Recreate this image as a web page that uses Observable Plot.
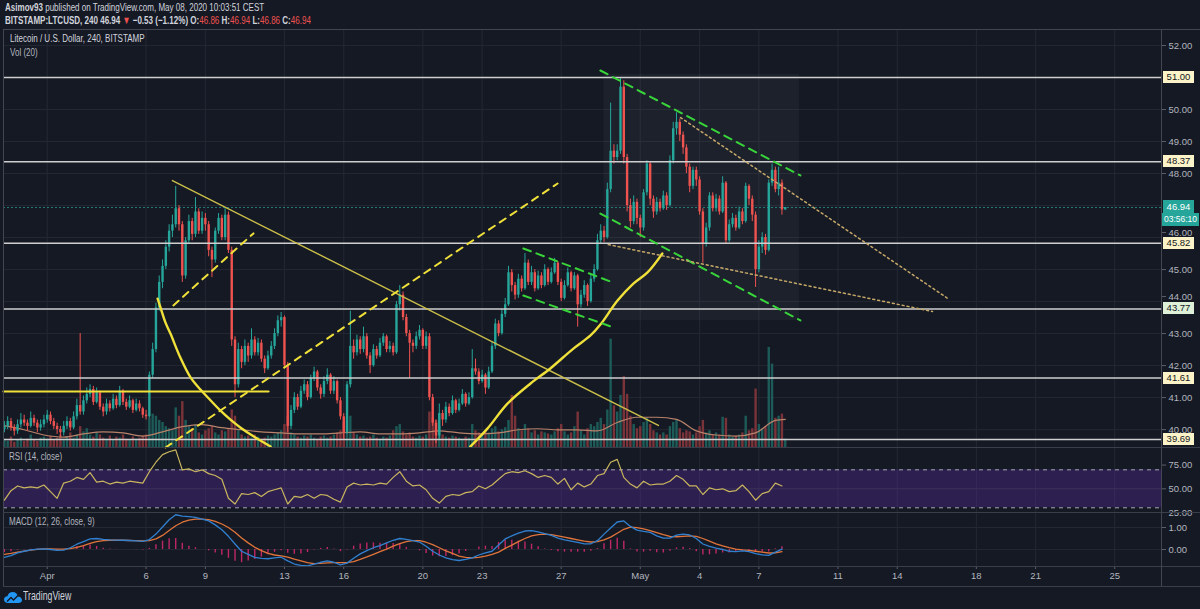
<!DOCTYPE html>
<html><head><meta charset="utf-8">
<script src="https://cdn.jsdelivr.net/npm/d3@7"></script>
<script src="https://cdn.jsdelivr.net/npm/@observablehq/plot@0.6"></script>
<style>
html,body{margin:0;padding:0;background:#151924;}
#wrap{position:relative;width:1200px;height:609px;overflow:hidden;background:#151924;font-family:"Liberation Sans",Arial,sans-serif;color:#d1d4dc;}
.abs{position:absolute;}
.cond{display:inline-block;transform:scaleX(0.73);transform-origin:0 50%;white-space:nowrap;}
.red{color:#ef5350;}
.lbl{position:absolute;font-size:9.5px;line-height:12px;height:12px;text-align:center;color:#131722;overflow:hidden;white-space:nowrap;}
svg{overflow:visible;}
</style></head>
<body><div id="wrap"></div>
<script>
// ---------------- DATA ----------------
const firstOpen = 40.00;
const close = [
40.10,40.25,40.05,39.95,40.15,40.30,40.20,40.10,40.35,40.20,
40.05,40.15,40.30,40.45,40.25,40.10,40.00,39.90,40.10,40.25,
40.05,40.40,40.75,40.55,40.90,41.10,41.25,40.85,41.15,40.70,
40.55,40.80,40.65,40.95,40.75,41.20,40.85,40.70,40.90,40.60,
40.80,40.65,40.45,40.40,41.70,42.50,43.80,44.60,45.10,45.70,
46.20,46.40,46.90,46.40,44.80,45.90,46.50,46.10,46.80,46.20,
46.60,46.40,45.60,45.30,46.20,46.60,46.00,46.70,45.60,42.80,
41.40,42.50,42.10,42.60,42.30,42.80,42.40,42.70,42.20,41.90,
42.30,42.60,43.00,43.40,43.50,42.00,40.10,40.60,41.00,40.70,
41.20,41.40,41.00,41.60,41.80,41.30,41.10,41.50,41.70,41.20,
41.50,40.90,40.40,39.90,41.40,42.60,42.40,42.80,42.50,42.90,
42.30,42.00,42.50,42.30,42.70,42.90,42.50,42.60,42.40,43.90,
44.20,43.50,43.00,42.70,42.60,42.90,43.10,42.60,42.90,41.00,
40.20,39.80,40.50,40.30,40.70,40.50,40.90,40.60,40.80,41.10,
40.80,41.00,41.90,41.80,41.50,41.70,41.30,41.80,42.60,43.30,
43.00,43.60,43.90,44.90,44.50,44.20,44.70,44.40,45.20,44.60,
44.90,44.40,44.80,44.50,45.00,44.60,44.90,45.20,44.60,44.10,
44.50,44.90,44.40,44.80,43.90,44.20,44.50,44.00,44.70,45.00,
45.90,46.20,46.00,47.50,48.70,48.50,48.70,50.70,48.50,47.00,
46.50,47.10,46.60,46.30,47.40,48.30,47.20,46.80,47.10,46.90,
47.30,47.00,48.40,49.40,49.60,49.20,48.80,48.20,47.60,48.10,
47.80,46.80,45.80,46.30,47.30,46.90,47.20,46.80,47.70,45.90,
46.40,46.60,46.30,46.80,46.50,47.60,47.20,46.70,45.00,45.70,
46.00,45.60,47.70,48.10,47.50,47.70,46.86,46.94];
const high = [
40.25,40.40,40.35,40.15,40.30,40.50,40.45,40.30,40.55,40.45,
40.30,40.30,40.45,40.60,40.55,40.35,40.20,40.10,40.25,40.40,
40.35,40.55,40.95,43.00,41.05,41.30,41.40,41.35,41.30,41.20,
40.80,40.95,40.90,41.10,41.05,41.35,41.25,40.95,41.05,40.95,
40.95,40.90,40.70,40.60,41.80,42.70,43.95,44.80,45.30,45.90,
46.40,46.70,47.60,47.00,46.50,46.00,46.70,46.60,47.25,46.90,
46.80,46.75,46.50,45.70,46.30,46.75,46.70,46.90,46.80,45.70,
42.90,42.70,42.60,42.80,42.70,43.15,42.90,42.85,42.80,42.30,
42.45,42.75,43.15,43.55,43.66,43.55,42.10,40.75,41.15,41.10,
41.35,41.55,41.50,41.70,41.95,41.85,41.40,41.65,41.90,41.75,
41.65,41.55,41.00,40.50,41.50,43.70,42.80,42.95,42.90,43.20,
43.00,42.40,42.65,42.60,42.85,43.00,42.95,42.75,42.70,44.00,
44.50,44.30,43.60,43.10,42.80,43.05,43.25,43.15,43.05,43.00,
41.10,40.30,40.80,40.60,40.85,40.80,41.05,40.95,40.95,41.25,
41.15,41.15,42.50,42.20,41.90,41.85,41.75,41.95,42.75,43.45,
43.40,43.75,44.10,45.10,45.00,44.60,44.85,44.80,45.50,45.30,
45.10,45.00,44.95,44.90,45.15,45.05,45.05,45.35,45.25,44.70,
44.65,45.05,44.95,44.90,44.85,44.35,44.65,44.55,44.85,45.15,
46.10,46.40,46.35,47.70,50.20,48.90,48.90,51.00,50.90,48.60,
47.20,47.30,47.20,46.70,47.50,48.40,48.35,47.30,47.25,47.20,
47.45,47.40,48.55,49.60,49.90,49.70,49.30,48.90,48.30,48.20,
48.20,47.90,46.90,46.45,47.40,47.40,47.35,47.30,47.90,47.75,
46.55,46.75,46.70,46.95,46.90,47.70,47.65,47.30,46.80,45.90,
46.15,46.10,47.80,48.30,48.20,48.20,47.80,46.94];
const low = [
39.90,40.00,39.95,39.80,39.85,40.05,40.10,39.95,40.05,40.10,
39.90,39.95,40.05,40.20,40.15,40.00,39.85,39.75,39.80,40.00,
39.95,40.00,40.30,40.45,40.45,40.80,41.00,40.75,40.80,40.60,
40.40,40.45,40.55,40.60,40.65,40.70,40.75,40.60,40.65,40.50,
40.55,40.55,40.35,40.30,40.35,41.60,42.40,43.70,44.40,45.00,
45.55,46.00,46.30,46.20,44.60,44.70,45.80,45.90,46.00,46.10,
46.10,46.20,45.40,44.75,45.20,46.10,45.90,45.90,45.50,42.60,
41.00,41.30,41.90,42.00,42.10,42.20,42.30,42.30,42.10,41.75,
41.85,42.20,42.50,42.90,43.20,41.90,39.90,40.00,40.50,40.60,
40.65,41.10,40.90,40.95,41.50,41.20,40.95,41.00,41.40,41.10,
41.10,40.80,40.30,39.70,39.85,41.30,42.20,42.30,42.35,42.40,
42.20,41.75,41.95,42.20,42.25,42.60,42.40,42.40,42.30,42.35,
43.70,43.40,42.90,41.60,42.40,42.50,42.80,42.50,42.50,40.90,
40.10,39.56,39.70,40.10,40.20,40.40,40.45,40.50,40.55,40.75,
40.70,40.75,40.95,41.70,41.40,41.45,41.10,41.25,41.75,42.50,
42.90,42.95,43.50,43.85,44.30,44.05,44.10,44.30,44.35,44.50,
44.50,44.30,44.35,44.40,44.45,44.50,44.55,44.85,44.50,44.00,
44.05,44.45,44.30,44.35,43.20,43.80,44.10,43.85,43.95,44.60,
44.95,45.80,45.85,45.95,47.40,48.30,48.40,48.60,48.30,46.80,
46.30,46.40,46.40,46.00,46.20,47.30,47.00,46.60,46.70,46.80,
46.85,46.85,46.95,48.30,49.20,49.00,48.60,48.00,47.40,47.50,
47.60,46.70,45.20,45.70,46.20,46.80,46.80,46.70,46.75,45.80,
45.85,46.30,46.20,46.25,46.40,46.45,47.00,46.50,44.44,44.90,
45.50,45.45,45.55,47.60,47.40,47.30,46.70,46.86];
const volume = [
8,6,10,5,7,9,6,8,12,7, 6,9,10,8,11,7,9,12,8,10, 14,9,12,20,15,18,12,10,14,12,
9,8,11,7,10,9,12,8,7,10, 8,9,11,12,28,32,30,26,24,20, 18,16,38,30,44,26,20,18,22,14,
12,16,18,20,14,12,16,15,18,36, 30,16,12,10,11,9,12,10,8,9, 11,10,12,14,16,22,30,14,12,10,
9,11,10,12,9,8,10,11,9,10, 12,14,16,24,26,30,14,12,10,11, 9,10,12,9,8,10,9,11,16,20,
22,15,12,14,10,9,11,10,12,34, 28,26,20,12,10,9,11,10,9,8, 10,9,22,16,14,12,16,14,18,20,
15,17,19,26,50,30,18,16,22,18, 14,16,12,15,14,13,12,15,18,22, 15,12,14,20,34,16,12,18,22,20,
24,28,22,36,104,40,34,50,68,51, 30,22,18,20,24,28,22,16,14,12, 14,12,20,24,26,18,14,16,15,12,
14,20,26,14,16,12,14,12,29,28, 12,10,11,12,14,30,16,18,56,22, 18,20,96,80,28,30,32,8];
// Vol MA(20) read at every 6th bar plus the last bar
const volMAIdx = [0,6,12,18,24,30,36,42,48,54,60,66,72,78,84,90,96,102,108,114,120,126,132,138,144,150,156,162,168,174,180,186,192,198,204,210,216,222,228,234,237];
const volMA = [21,17,12,10,13,15,14,11,15,20, 22,19,17,15,14,13,13,14,15,13, 13,14,16,14,13,14,17,18,17,17, 16,24,29,29,27,16,12,11,14,26, 27];
// RSI(14), MACD(12,26,9) read at every 2nd bar
const rsi = [38,48,53,51,52,51,54,47,40,56, 58,62,60,67,57,58,55,57,56,58, 57,56,68,78,86,89,91,70,71,68,
70,66,64,60,40,34,45,44,46,42, 47,49,51,34,42,41,44,40,44,43, 39,36,52,56,54,55,54,56,55,62,
68,58,53,54,49,40,35,42,44,43, 46,47,53,50,54,60,66,68,67,69, 66,62,64,62,55,61,49,56,52,55,
64,66,78,81,62,55,51,58,54,55, 55,58,64,60,53,53,44,51,49,50, 47,48,54,47,38,45,47,56,53];
const macd = [-0.36,-0.28,-0.15,-0.08,-0.02,0.02,0.03,0.00,-0.04,-0.03, 0.08,0.24,0.36,0.48,0.50,0.46,0.44,0.43,0.42,0.41,
0.39,0.37,0.45,0.70,1.02,1.35,1.58,1.52,1.49,1.46, 1.38,1.30,1.12,0.90,0.60,0.25,-0.08,-0.22,-0.36,-0.40,
-0.42,-0.38,-0.35,-0.52,-0.66,-0.72,-0.74,-0.66,-0.58,-0.52, -0.58,-0.70,-0.62,-0.40,-0.20,-0.05,0.08,0.18,0.30,0.42,
0.50,0.46,0.40,0.34,0.15,-0.08,-0.25,-0.38,-0.46,-0.50, -0.45,-0.38,-0.25,-0.15,-0.08,0.20,0.48,0.62,0.74,0.84,
0.86,0.80,0.72,0.64,0.52,0.44,0.38,0.32,0.26,0.26, 0.40,0.70,0.98,1.25,1.30,1.05,0.88,0.82,0.78,0.62,
0.52,0.52,0.65,0.70,0.66,0.50,0.25,0.14,0.06,0.00, -0.08,-0.10,-0.06,-0.10,-0.19,-0.24,-0.27,-0.12,0.02];
const signal = [-0.22,-0.18,-0.12,-0.07,-0.03,0.01,0.03,0.03,0.02,0.02, 0.04,0.10,0.18,0.28,0.36,0.40,0.42,0.42,0.42,0.41,
0.40,0.39,0.40,0.48,0.64,0.86,1.08,1.24,1.34,1.38, 1.38,1.36,1.28,1.16,1.00,0.78,0.52,0.30,0.10,-0.05,
-0.18,-0.25,-0.29,-0.35,-0.44,-0.52,-0.60,-0.64,-0.63,-0.61, -0.60,-0.60,-0.60,-0.55,-0.45,-0.34,-0.22,-0.10,0.02,0.15,
0.27,0.36,0.40,0.40,0.33,0.22,0.08,-0.06,-0.18,-0.30, -0.36,-0.38,-0.36,-0.30,-0.22,-0.12,0.05,0.20,0.36,0.50,
0.62,0.68,0.70,0.68,0.62,0.56,0.50,0.44,0.38,0.34, 0.36,0.44,0.56,0.74,0.92,1.02,0.99,0.94,0.86,0.77,
0.68,0.60,0.58,0.60,0.62,0.60,0.50,0.38,0.26,0.16, 0.08,0.02,-0.02,-0.04,-0.08,-0.12,-0.16,-0.15,-0.10];

// levels and axis
const levels = [51.00, 48.37, 45.82, 43.77, 41.61, 39.69];
const levelBg = ["#fdf3c8","#fdf3c8","#fdf3c8","#dff0d8","#fdf3c8","#fdf3c8"];
const lastPrice = 46.94;
const countdown = "03:56:10";
const priceTicks = [40,41,42,43,45,48,49,50,52];
const priceTicksNearLevels = [44,46];
const gridTicks = [40,41,42,43,44,45,46,47,48,49,50,51,52];
const rsiTicks = [25,50,75];
const rsiBands = [30,70];
const macdTicks = [0,1];
// bar index of 00:00 each labelled day (bars every 4h from Mar 29 20:00)
const tickDays = [0,5,8,12,15,19,22,26,30,33,36,40,43,47,50,54];
const tickLabels = ["Apr","6","9","13","16","20","23","27","May","4","7","11","14","18","21","25"];

// drawings (bar index, price)
const trendSolid = [[51.0,47.78],[198.5,40.13]];
const arcLeft = [[46.5,44.09],[47.4,43.81],[48.9,43.34],[50.4,43.00],[53.4,42.25],[56.5,41.63],[59.5,41.25],[62.6,40.91],[65.6,40.59],[68.6,40.31],[71.7,40.06],[76.2,39.75],[80.8,39.47]];
const arcRight = [[141.4,39.47],[146.6,40.03],[152.7,40.81],[159.7,41.44],[165.7,41.91],[172.7,42.53],[177.9,42.94],[180.9,43.28],[186.1,44.03],[190.9,44.56],[195.2,44.91],[199.7,45.50]];
const yellowH = [[-0.3,41.19],[80.2,41.19]];
const yellowDash = [[[51.3,43.88],[75.6,46.13]], [[48.9,39.44],[167.9,47.69]]];
const greenDash = [[[180.9,51.22],[241.6,47.94]], [[180.9,46.75],[241.6,43.41]], [[157.5,45.66],[184.9,44.59]], [[157.5,44.19],[184.9,43.19]]];
const tanDots = [[[205.2,49.75],[286.3,44.10]], [[183.3,45.78],[281.7,43.69]]];
const shadeBox = {i1:182.0, i2:241.3, p1:43.40, p2:51.10};

// ---------------- BUILD ----------------
const G = "#26a69a", R = "#ef5350";
const GV = "#1d5b58", RV = "#7a3439";
const bars = close.map((c,i)=>({i, open: i===0 ? firstOpen : close[i-1], close:c, high:high[i], low:low[i], vol:volume[i]}));
bars.forEach(d=>{ d.col = d.close >= d.open ? G : R; d.vcol = d.close >= d.open ? GV : RV; });
const tickIdx = tickDays.map(d=>13 + 6*d);
const labelByIdx = new Map(tickIdx.map((t,j)=>[t, tickLabels[j]]));
const seg = (arr)=>arr.flatMap((s,id)=>s.map(([i,p])=>({i,p,id})));
const pts = (arr)=>arr.map(([i,p])=>({i,p}));
const rsiData = rsi.map((v,k)=>({i:2*k, v}));
const macdData = macd.map((v,k)=>({i:2*k, m:v, s:signal[k], h:v - signal[k]}));
const volMAData = volMA.map((v,k)=>({i:volMAIdx[k], v}));

const xDom = [-0.27, 351.2];
const GRID = "#242833";
const base = {width:1200, marginLeft:3, marginRight:39, marginTop:0, marginBottom:0,
  x:{domain:xDom, axis:null}, color:{type:"identity"},
  style:{background:"transparent", fontFamily:"Liberation Sans, Arial, sans-serif", fontSize:"9.5px", color:"#b2b5be", overflow:"visible"}};
const pDom = [39.44, 52.47];
const wrap = document.getElementById("wrap");
function place(el, top){ el.style.position="absolute"; el.style.left="0px"; el.style.top=top+"px"; wrap.appendChild(el); return el; }

// layer 1: grid + shade
const gridPlot = Plot.plot({...base, height:417, y:{domain:pDom, axis:null}, marks:[
  Plot.ruleX(tickIdx, {stroke:GRID}),
  Plot.ruleY(gridTicks, {stroke:GRID}),
  Plot.rect([shadeBox], {x1:"i1", x2:"i2", y1:"p1", y2:"p2", fill:"#9aa3c0", fillOpacity:0.06})
]});
place(gridPlot, 30);

// layer 2: volume
const volPlot = Plot.plot({...base, height:417, y:{domain:[0,400], axis:null}, marks:[
  Plot.ruleX(bars, {x:"i", y1:0, y2:"vol", stroke:"vcol", strokeWidth:2.4}),
  Plot.line(volMAData, {x:"i", y:"v", stroke:"#b9826a", strokeWidth:1.2, curve:"monotone-x"})
]});
place(volPlot, 30);

// layer 3: price
const mainPlot = Plot.plot({...base, height:417, y:{domain:pDom, axis:null}, marks:[
  Plot.ruleY([lastPrice], {stroke:G, strokeOpacity:0.7, strokeDasharray:"2,2"}),
  Plot.ruleX(bars, {x:"i", y1:"low", y2:"high", stroke:"col", strokeWidth:1}),
  Plot.ruleX(bars, {x:"i", y1:"open", y2:"close", stroke:"col", strokeWidth:2.4}),
  Plot.ruleY(levels, {stroke:"#cfcfcf", strokeWidth:1.5}),
  Plot.line(pts(trendSolid), {x:"i", y:"p", stroke:"#cbbf4a", strokeWidth:1.4}),
  Plot.line(pts(arcLeft), {x:"i", y:"p", stroke:"#efe03a", strokeWidth:2.4, curve:"catmull-rom"}),
  Plot.line(pts(arcRight), {x:"i", y:"p", stroke:"#efe03a", strokeWidth:2.4, curve:"catmull-rom"}),
  Plot.line(pts(yellowH), {x:"i", y:"p", stroke:"#efe03a", strokeWidth:2}),
  Plot.line(seg(yellowDash), {x:"i", y:"p", z:"id", stroke:"#efe03a", strokeWidth:2, strokeDasharray:"7,6"}),
  Plot.line(seg(greenDash), {x:"i", y:"p", z:"id", stroke:"#38d43a", strokeWidth:2, strokeDasharray:"8,6"}),
  Plot.line(seg(tanDots), {x:"i", y:"p", z:"id", stroke:"#c6a868", strokeWidth:1.5, strokeDasharray:"2,3"}),
  Plot.axisY(priceTicks, {anchor:"right", label:null, tickSize:4, tickPadding:3, tickFormat:d=>d.toFixed(2), stroke:"#5d606b"}),
  Plot.axisY(priceTicksNearLevels, {anchor:"right", label:null, tickSize:4, tickPadding:3, dy:-5, tickFormat:d=>d.toFixed(2), stroke:"#5d606b"})
]});
place(mainPlot, 30);

// RSI
const rsiPlot = Plot.plot({...base, height:65, y:{domain:[25.05,93.5], axis:null}, marks:[
  Plot.ruleX(tickIdx, {stroke:GRID}),
  Plot.rect([{x1:xDom[0], x2:xDom[1], lo:rsiBands[0], hi:rsiBands[1]}], {x1:"x1", x2:"x2", y1:"lo", y2:"hi", fill:"#6a2fc2", fillOpacity:0.28}),
  Plot.ruleY([50], {stroke:"#3d3358"}),
  Plot.ruleY(rsiBands, {stroke:"#a3a6b4", strokeDasharray:"4,4"}),
  Plot.line(rsiData, {x:"i", y:"v", stroke:"#c9b65e", strokeWidth:1.2}),
  Plot.axisY(rsiTicks, {anchor:"right", label:null, tickSize:4, tickPadding:3, tickFormat:d=>d.toFixed(2), stroke:"#5d606b"})
]});
place(rsiPlot, 447);

// MACD + x axis
const macdPlot = Plot.plot({...base, height:75, marginBottom:21, y:{domain:[-0.773,1.682], axis:null}, marks:[
  Plot.ruleX(tickIdx, {stroke:GRID}),
  Plot.ruleY(macdTicks, {stroke:GRID}),
  Plot.ruleX(macdData, {x:"i", y1:0, y2:"h", stroke:"#d02a6a", strokeWidth:1.4, strokeOpacity:0.9}),
  Plot.line(macdData, {x:"i", y:"s", stroke:"#e0743a", strokeWidth:1.3}),
  Plot.line(macdData, {x:"i", y:"m", stroke:"#3180d0", strokeWidth:1.3}),
  Plot.axisY(macdTicks, {anchor:"right", label:null, tickSize:4, tickPadding:3, tickFormat:d=>d.toFixed(2), stroke:"#5d606b"}),
  Plot.axisX(tickIdx, {anchor:"bottom", label:null, tickSize:3, tickPadding:3, tickFormat:d=>labelByIdx.get(d), stroke:"#5d606b"})
]});
place(macdPlot, 512);

// ---------- HTML chrome ----------
function div(css, html){ const d=document.createElement("div"); d.className="abs"; d.style.cssText+=css; if(html!==undefined) d.innerHTML=html; wrap.appendChild(d); return d; }
// frame and separators
div("left:3px;top:29px;width:1197px;height:0;border-top:1px solid #434651;");
div("left:3px;top:29px;width:0;height:557px;border-left:1px solid #434651;");
[447,512,566,586].forEach(y=>div(`left:3px;top:${y}px;width:1197px;height:0;border-top:1px solid #3a3e4a;`));
div("left:1161px;top:29px;width:0;height:557px;border-left:1px solid #434651;");

// header
div("left:5px;top:1px;font-size:11px;", `<span class="cond"><b>Asimov93</b> published on TradingView.com, May 08, 2020 10:03:51 CEST</span>`);
div("left:5px;top:14px;font-size:11px;", `<span class="cond"><b>BITSTAMP:LTCUSD, 240</b> <b>46.94</b> <span class="red">&#9660;</span> <b>&minus;0.53 (&minus;1.12%)</b> <b>O:</b><span class="red">46.86</span> <b>H:</b><span class="red">46.94</span> <b>L:</b><span class="red">46.86</span> <b>C:</b><span class="red">46.94</span></span>`);
div("left:10px;top:32px;font-size:11px;color:#d1d4dc;", `<span class="cond">Litecoin / U.S. Dollar, 240, BITSTAMP</span>`);
div("left:10px;top:46px;font-size:11px;color:#b2b5be;", `<span class="cond">Vol (20)</span>`);
div("left:9px;top:450px;font-size:11px;color:#b2b5be;", `<span class="cond">RSI (14, close)</span>`);
div("left:9px;top:515px;font-size:11px;color:#b2b5be;", `<span class="cond">MACD (12, 26, close, 9)</span>`);

// price labels on axis, positioned with the plot's own y scale
const ys = mainPlot.scale("y");
levels.forEach((p,j)=>{
  const y = 30 + ys.apply(p);
  const d = document.createElement("div"); d.className="lbl";
  d.style.cssText += `left:1163px;top:${y-6}px;width:31px;background:${levelBg[j]};`;
  d.textContent = p.toFixed(2); wrap.appendChild(d);
});
{
  const y = 30 + ys.apply(lastPrice);
  const a = document.createElement("div"); a.className="lbl";
  a.style.cssText += `left:1163px;top:${y-6.5}px;width:31px;height:13px;line-height:13px;background:#26a69a;color:#fff;`;
  a.textContent = lastPrice.toFixed(2); wrap.appendChild(a);
  const b = document.createElement("div"); b.className="lbl";
  b.style.cssText += `left:1162px;top:${y+6.5}px;width:37px;height:13px;line-height:13px;background:#26a69a;color:#fff;font-size:8.5px;`;
  b.textContent = countdown; wrap.appendChild(b);
}

// footer
div("left:4px;top:590px;", `<svg width="18" height="13" viewBox="0 0 18 13"><path d="M4 12 C1 12 0 10 0 8.5 C0 6.5 1.6 5.2 3.4 5.3 C4 2.5 6.3 1 8.6 1 C11.5 1 13.5 3 13.8 5.4 C16 5.4 18 7 18 9 C18 11 16.5 12 14.5 12 Z" fill="#2196f3"/><path d="M3 10.5 L7 6.5 L9.5 9 L14 4.5" stroke="#131722" stroke-width="1.4" fill="none"/></svg>`);
div("left:23px;top:589px;font-size:12px;color:#d1d4dc;", `<span class="cond">TradingView</span>`);
</script>
</body></html>
